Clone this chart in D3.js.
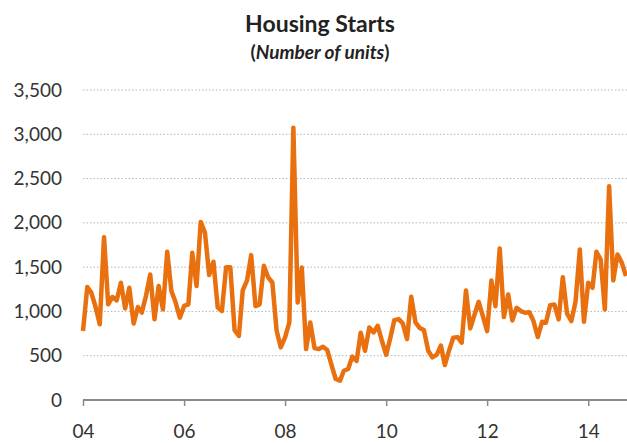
<!DOCTYPE html>
<html>
<head>
<meta charset="utf-8">
<script src="https://cdn.jsdelivr.net/npm/d3@7"></script>
<style>
  body { margin: 0; background: #fff; }
  svg { display: block; font-family: Lato, "Open Sans", sans-serif; }
</style>
</head>
<body>
<svg id="chart"></svg>
<script>
// monthly housing starts, Jan 2004 .. Oct 2014
const startMonth = new Date(2004, 0, 1);
const starts = [
  780, 1275, 1212, 1050, 855, 1838, 1080, 1163, 1125, 1324, 1035, 1268,
  863, 1050, 987, 1180, 1418, 911, 1287, 1024, 1675, 1230, 1100, 930,
  1062, 1080, 1662, 1287, 2011, 1887, 1411, 1561, 1043, 1005, 1500, 1500,
  788, 724, 1238, 1350, 1636, 1060, 1080, 1515, 1383, 1327, 782, 594,
  707, 876, 3075, 1101, 1496, 575, 876, 586, 575, 601, 564, 400,
  237, 218, 330, 350, 490, 440, 760, 556, 819, 763, 838, 669,
  511, 707, 902, 913, 865, 688, 1165, 876, 812, 789, 556, 481,
  510, 615, 395, 560, 703, 710, 647, 1237, 808, 960, 1109, 947,
  778, 1349, 1060, 1710, 936, 1192, 898, 1041, 1004, 985, 990, 891,
  711, 883, 872, 1071, 1079, 910, 1387, 974, 891, 1109, 1699, 883,
  1323, 1267, 1673, 1586, 1023, 2413, 1350, 1643, 1549, 1398
];
const yTicks = [0, 500, 1000, 1500, 2000, 2500, 3000, 3500];
const xTickYears = [2004, 2006, 2008, 2010, 2012, 2014];

const width = 627, height = 443;
const margin = {top: 90, right: 0, bottom: 43, left: 83};

const data = starts.map((v, i) => ({date: d3.timeMonth.offset(startMonth, i), value: v}));

const svg = d3.select("#chart")
    .attr("width", width)
    .attr("height", height);

const x = d3.scaleTime()
    .domain([startMonth, data[data.length - 1].date])
    .range([margin.left, width - margin.right - 1]);

const y = d3.scaleLinear()
    .domain([0, 3500])
    .range([height - margin.bottom, margin.top]);

// title
svg.append("text")
    .attr("x", 320).attr("y", 32)
    .attr("text-anchor", "middle")
    .attr("font-size", 23).attr("font-weight", "bold").attr("fill", "#222")
    .text("Housing Starts");

const sub = svg.append("text")
    .attr("x", 320).attr("y", 59)
    .attr("text-anchor", "middle")
    .attr("font-size", 19).attr("font-weight", "bold").attr("fill", "#222");
sub.append("tspan").text("(");
sub.append("tspan").attr("font-style", "italic").text("Number of units");
sub.append("tspan").text(")");

// gridlines
svg.append("g")
    .selectAll("line")
    .data(yTicks.filter(d => d > 0))
    .join("line")
    .attr("x1", margin.left).attr("x2", width)
    .attr("y1", d => y(d)).attr("y2", d => y(d))
    .attr("stroke", "#b5b5b5")
    .attr("stroke-width", 1)
    .attr("stroke-dasharray", "1.5,2");

// y axis labels (no axis line)
const yAxis = svg.append("g")
    .attr("transform", `translate(${margin.left - 21},0)`)
    .call(d3.axisLeft(y).tickValues(yTicks).tickSize(0).tickPadding(0).tickFormat(d3.format(",")));
yAxis.select(".domain").remove();
yAxis.selectAll("text")
    .attr("font-size", 19).attr("fill", "#333")
    .attr("font-family", "Lato, 'Open Sans', sans-serif");

// x axis
const xAxis = svg.append("g")
    .attr("transform", `translate(0,${y(0)})`)
    .call(d3.axisBottom(x)
        .tickValues(xTickYears.map(yr => new Date(yr, 0, 1)))
        .tickSize(6).tickPadding(19)
        .tickFormat(d3.timeFormat("%y")));
xAxis.select(".domain")
    .attr("d", `M${margin.left},0H${width}`)
    .attr("stroke", "#8a8a8a").attr("stroke-width", 2);
xAxis.selectAll(".tick line").attr("stroke", "#8a8a8a").attr("stroke-width", 1.5);
xAxis.selectAll("text")
    .attr("font-size", 19).attr("fill", "#333")
    .attr("font-family", "Lato, 'Open Sans', sans-serif");

// line
const line = d3.line()
    .x(d => x(d.date))
    .y(d => y(d.value));

svg.append("path")
    .datum(data)
    .attr("fill", "none")
    .attr("stroke", "#e8700f")
    .attr("stroke-width", 4.5)
    .attr("stroke-linejoin", "round")
    .attr("d", line);
</script>
</body>
</html>
